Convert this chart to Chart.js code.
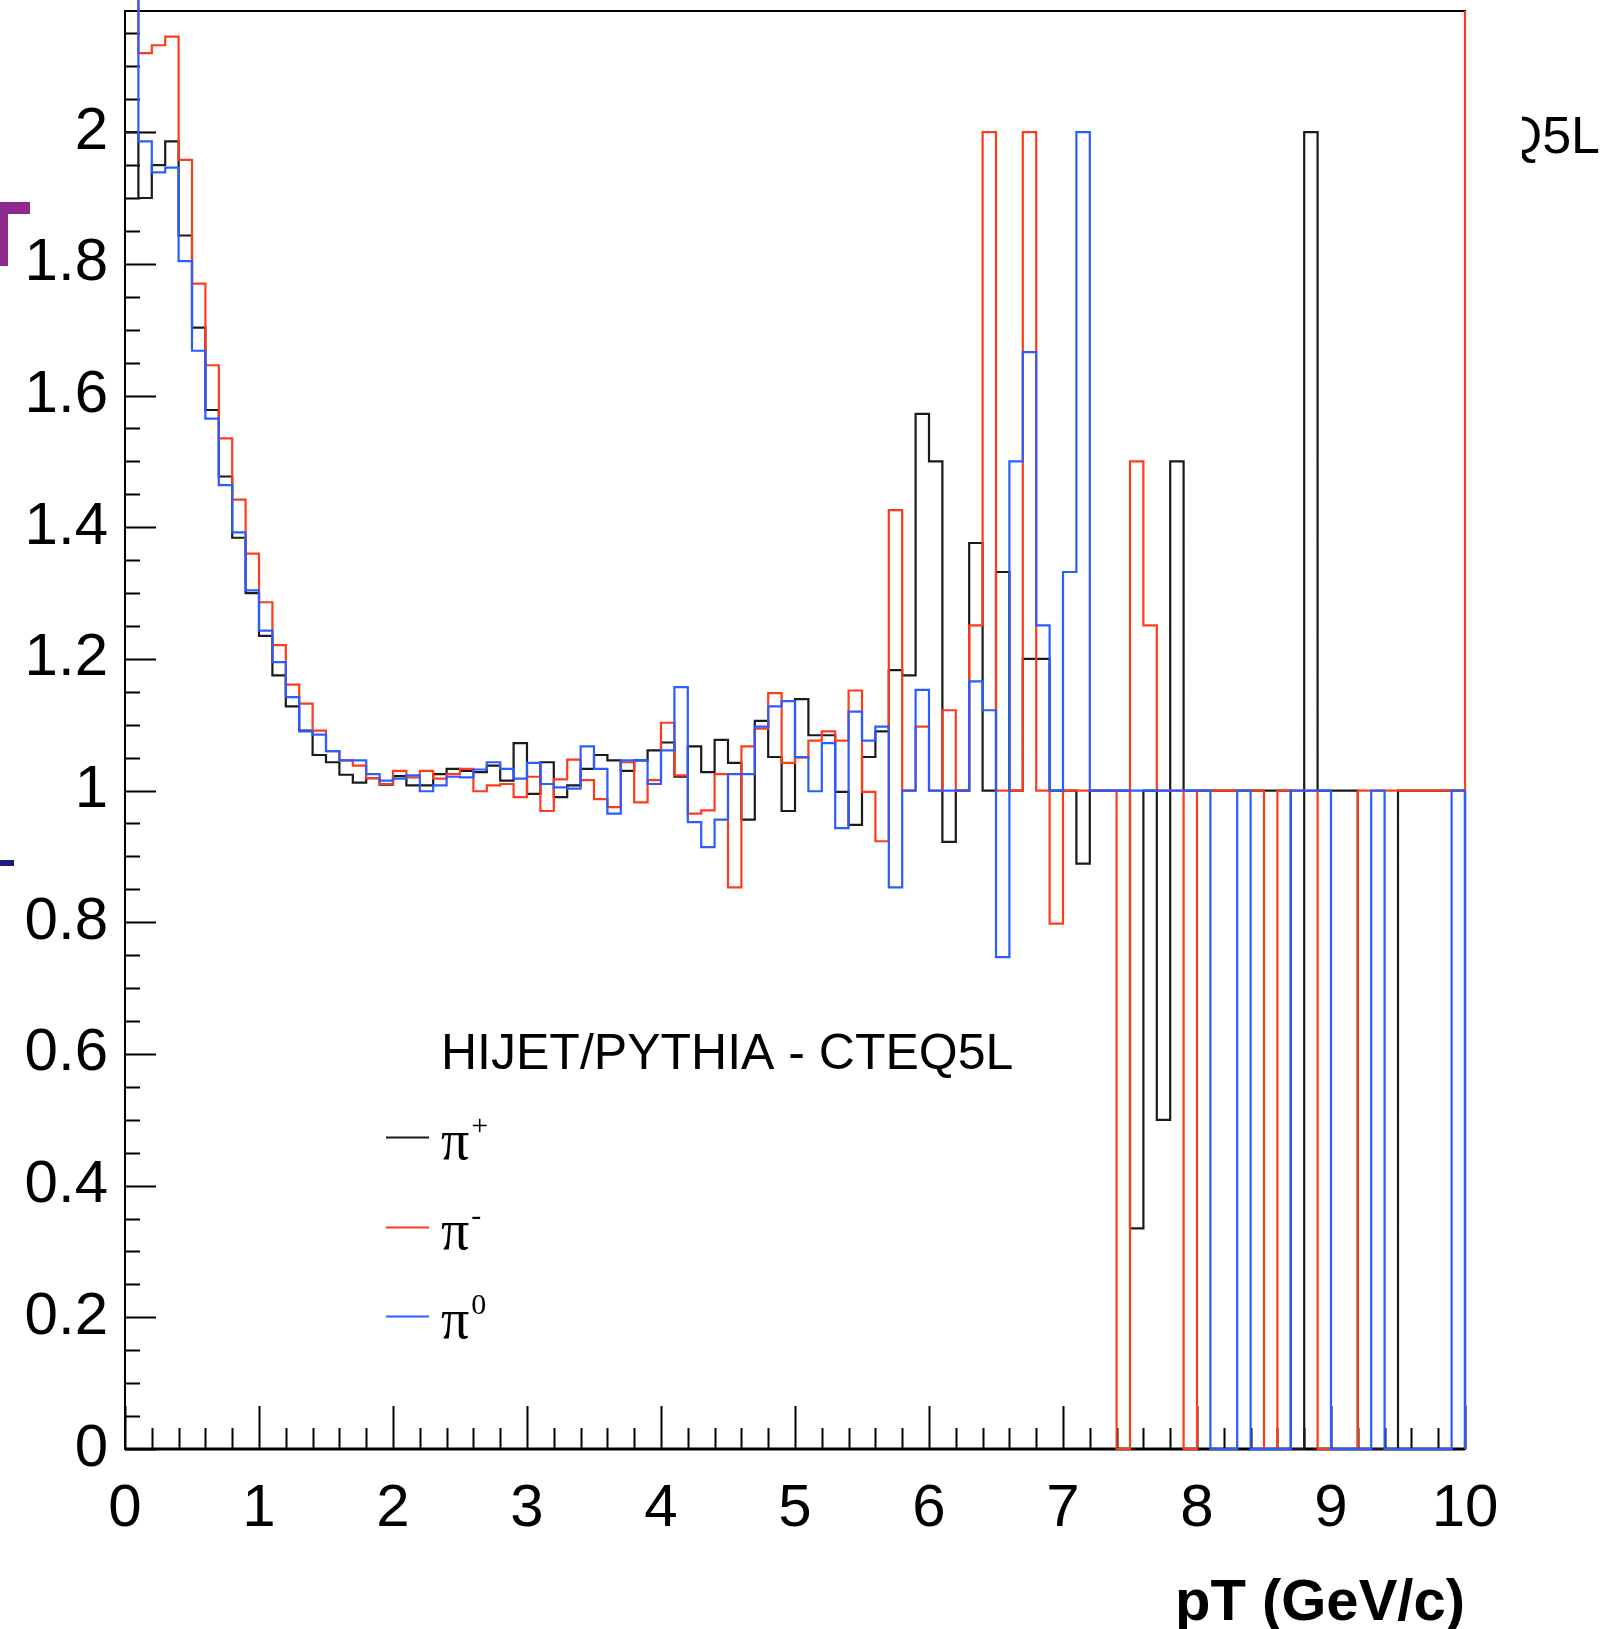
<!DOCTYPE html>
<html>
<head>
<meta charset="utf-8">
<script src="https://cdn.jsdelivr.net/npm/chart.js@4.4.1/dist/chart.umd.min.js"></script>
<style>
  html, body { margin: 0; padding: 0; background: #fff; }
</style>
</head>
<body>
<canvas id="chart_ratio" width="1607" height="1629"></canvas>
<script>
// pT bins, 0.1 GeV/c wide, low edges
let pTBins = Array.from({length: 100}, (_, i) => i / 10);
let pTMax = 10;

// ratio per bin (values above 2.18 are off scale)
let piPlus = [
  2.00, 1.90, 1.95, 1.986, 1.843, 1.703, 1.578, 1.477, 1.384, 1.300,
  1.235, 1.175, 1.128, 1.091, 1.054, 1.043, 1.024, 1.012, 1.019, 1.009,
  1.022, 1.008, 1.008, 1.025, 1.033, 1.030, 1.028, 1.038, 1.015, 1.072,
  0.995, 1.043, 0.990, 1.008, 1.033, 1.054, 1.046, 1.030, 1.046, 1.061,
  1.073, 1.021, 1.067, 1.028, 1.077, 1.042, 0.956, 1.106, 1.051, 0.969,
  1.139, 1.084, 1.084, 0.998, 0.948, 1.051, 1.090, 1.183, 1.175, 1.572,
  1.500, 0.922, 1.000, 1.376, 1.000, 1.332, 1.000, 1.200, 1.200, 1.000,
  1.000, 0.889, 1.000, 1.000, 1.000, 0.335, 1.000, 0.500, 1.500, 1.000,
  1, 1, 1, 1, 1, 1, 1, 0, 2.0, 1,
  1, 1, 0, 0, 0, 1, 1, 1, 1, 1
];
let piMinus = [
  2.30, 2.120, 2.132, 2.145, 1.958, 1.770, 1.646, 1.535, 1.442, 1.360,
  1.286, 1.221, 1.161, 1.132, 1.091, 1.060, 1.046, 1.038, 1.019, 1.010,
  1.030, 1.020, 1.030, 1.018, 1.025, 1.033, 0.999, 1.008, 1.010, 0.990,
  1.021, 0.969, 1.017, 1.047, 1.016, 0.987, 0.975, 1.043, 0.982, 1.016,
  1.103, 1.023, 0.965, 0.970, 1.025, 0.853, 1.067, 1.094, 1.148, 1.042,
  1.050, 1.076, 1.090, 1.076, 1.152, 0.998, 0.923, 1.426, 1.000, 1.097,
  1.000, 1.122, 1.000, 1.251, 2.000, 1.000, 1.000, 2.000, 1.000, 0.798,
  1, 1, 1, 1, 0, 1.5, 1.251, 1, 1, 0,
  1, 1, 1, 1, 1, 0, 1, 1, 1, 0,
  0, 0, 1, 1, 1, 1, 1, 1, 1, 1
];
let piMinusOverflow = 2.184;
let piZero = [
  2.30, 1.986, 1.939, 1.946, 1.804, 1.668, 1.565, 1.464, 1.392, 1.304,
  1.243, 1.195, 1.142, 1.090, 1.085, 1.060, 1.046, 1.046, 1.025, 1.015,
  1.018, 1.023, 0.999, 1.008, 1.021, 1.020, 1.032, 1.043, 1.033, 1.018,
  1.042, 1.010, 1.005, 1.003, 1.067, 1.033, 0.965, 1.046, 1.046, 1.010,
  1.061, 1.157, 0.952, 0.914, 0.956, 1.025, 1.025, 1.097, 1.128, 1.136,
  1.051, 0.999, 1.072, 0.943, 1.120, 1.076, 1.097, 0.853, 1.000, 1.153,
  1.000, 1.000, 1.000, 1.166, 1.122, 0.747, 1.500, 1.666, 1.251, 1.000,
  1.332, 2.000, 1, 1, 1, 1, 1, 1, 1, 1,
  1, 0, 0, 1, 0, 0, 0, 1, 1, 1,
  0, 0, 0, 1, 0, 0, 0, 0, 0, 1
];

let xTickLabels = [0, 1, 2, 3, 4, 5, 6, 7, 8, 9, 10];
let yTickLabels = [0, 0.2, 0.4, 0.6, 0.8, 1, 1.2, 1.4, 1.6, 1.8, 2];
let xMinorStep = 0.2;
let yMinorStep = 0.05;
let yMax = 2.184;

let legendLabels = ['π', 'π', 'π'];
let legendSups = ['+', '-', '0'];

// histogram outline: left edges + closing edge at pTMax
function histo(vals, closing) {
  let pts = vals.map((v, i) => ({x: pTBins[i], y: v}));
  pts.push({x: pTMax, y: 0});
  closing.forEach(v => pts.push({x: pTMax, y: v}));
  return pts;
}

// frame + inward ticks, drawn under the histograms like ROOT does
let frameTicks = {
  id: 'frameTicks',
  beforeDatasetsDraw(chart) {
    let {ctx, chartArea: a, scales: {x, y}} = chart;
    ctx.save();
    ctx.strokeStyle = '#000';
    ctx.lineWidth = 2;
    ctx.beginPath();
    for (let v = 0; v <= pTMax + 1e-9; v += xMinorStep) {
      let px = Math.round(x.getPixelForValue(v)) + 0.5;
      let major = xTickLabels.some(t => Math.abs(t - v) < 1e-6);
      ctx.moveTo(px, a.bottom);
      ctx.lineTo(px, a.bottom - (major ? 43 : 21));
    }
    for (let v = 0; v <= yMax; v += yMinorStep) {
      let py = Math.round(y.getPixelForValue(v)) + 0.5;
      let major = yTickLabels.some(t => Math.abs(t - v) < 1e-6);
      ctx.moveTo(a.left, py);
      ctx.lineTo(a.left + (major ? 31 : 15), py);
    }
    ctx.stroke();
    ctx.strokeRect(a.left, a.top, a.right - a.left, a.bottom - a.top);
    ctx.lineWidth = 3;
    ctx.beginPath();
    ctx.moveTo(a.left, a.bottom);
    ctx.lineTo(a.right, a.bottom);
    ctx.stroke();
    ctx.restore();
  }
};

let textBox = {
  id: 'textBox',
  afterDraw(chart) {
    let ctx = chart.ctx;
    ctx.save();
    ctx.fillStyle = '#000';
    ctx.textBaseline = 'alphabetic';
    ctx.font = '50px "Liberation Sans", Arial, sans-serif';
    ctx.fillText('HIJET/PYTHIA - CTEQ5L', 441, 1069);

    let rows = [1137, 1227, 1316];
    chart.data.datasets.forEach((ds, i) => {
      ctx.strokeStyle = ds.borderColor;
      ctx.lineWidth = 2;
      ctx.beginPath();
      ctx.moveTo(386, rows[i] + 0.5);
      ctx.lineTo(429, rows[i] + 0.5);
      ctx.stroke();
      ctx.fillStyle = '#000';
      ctx.font = '56px "Liberation Serif", "Times New Roman", serif';
      ctx.fillText(legendLabels[i], 441, rows[i] + 22);
      let w = ctx.measureText(legendLabels[i]).width;
      ctx.font = '30px "Liberation Serif", "Times New Roman", serif';
      ctx.fillText(legendSups[i], 441 + w + 2, rows[i] - 2);
    });

    // pieces of the neighbouring slide content, cut by the crop
    ctx.fillStyle = '#8e2a8e';
    ctx.fillRect(0, 202, 30, 12);
    ctx.fillRect(0, 202, 8, 64);
    ctx.fillStyle = '#1c1c80';
    ctx.fillRect(0, 860, 14, 6);
    ctx.beginPath();
    ctx.rect(1522, 90, 85, 80);
    ctx.clip();
    ctx.fillStyle = '#000';
    ctx.font = '52px "Liberation Sans", Arial, sans-serif';
    ctx.textAlign = 'right';
    ctx.fillText('CTEQ5L', 1600, 153);
    ctx.restore();
  }
};

let ctx = document.getElementById('chart_ratio');

let ratio = new Chart(ctx, {
  type: 'line',
  data: {
    datasets: [
      {label: 'π+', data: histo(piPlus, []), borderColor: '#1a1a1a', order: 2},
      {label: 'π-', data: histo(piMinus, [piMinusOverflow]), borderColor: '#ff3b1d', order: 1},
      {label: 'π0', data: histo(piZero, []), borderColor: '#2a5cff', order: 0}
    ]
  },
  options: {
    responsive: false,
    animation: false,
    layout: {padding: {top: 11, right: 142, left: 0, bottom: 0}},
    elements: {
      point: {radius: 0, hoverRadius: 0},
      line: {stepped: 'before', borderWidth: 2.2, fill: false, tension: 0}
    },
    datasets: {line: {clip: false}},
    plugins: {
      legend: {display: false},
      tooltip: {enabled: false}
    },
    scales: {
      x: {
        type: 'linear',
        min: 0,
        max: pTMax,
        grid: {display: false, drawTicks: false},
        border: {display: false},
        afterBuildTicks: s => { s.ticks = xTickLabels.map(v => ({value: v})); },
        afterFit: s => { s.height = 180; s.paddingLeft = 0; s.paddingRight = 0; },
        ticks: {
          color: '#000',
          autoSkip: false,
          maxRotation: 0,
          padding: 24,
          font: {family: '"Liberation Sans", Arial, sans-serif', size: 60},
          callback: v => String(v)
        },
        title: {
          display: true,
          text: 'pT (GeV/c)',
          align: 'end',
          color: '#000',
          padding: {top: 0, bottom: -4},
          font: {family: '"Liberation Sans", Arial, sans-serif', size: 58, weight: 'bold', lineHeight: 1}
        }
      },
      y: {
        type: 'linear',
        min: 0,
        max: yMax,
        grid: {display: false, drawTicks: false},
        border: {display: false},
        afterBuildTicks: s => { s.ticks = yTickLabels.map(v => ({value: v})); },
        afterFit: s => { s.width = 125; s.paddingTop = 0; s.paddingBottom = 0; },
        ticks: {
          color: '#000',
          padding: 17,
          font: {family: '"Liberation Sans", Arial, sans-serif', size: 60},
          callback: v => String(+v.toFixed(2))
        }
      }
    }
  },
  plugins: [frameTicks, textBox]
});
</script>
</body>
</html>
